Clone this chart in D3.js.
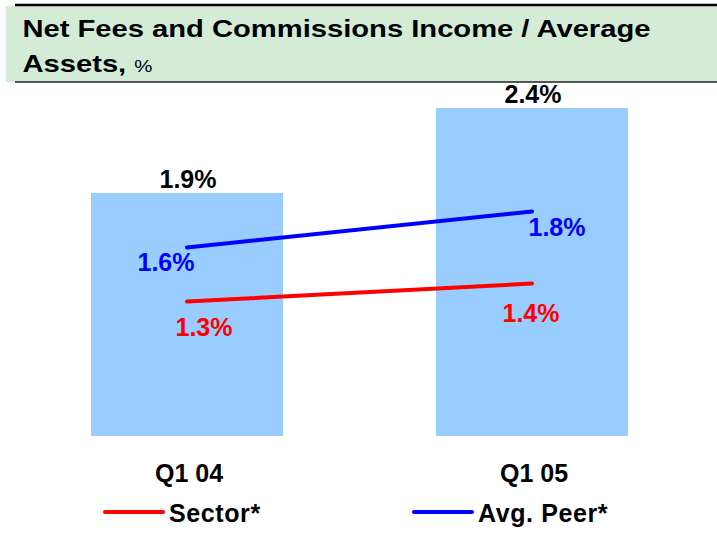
<!DOCTYPE html>
<html>
<head>
<meta charset="utf-8">
<script src="https://cdn.jsdelivr.net/npm/d3@7"></script>
<style>
  html, body { margin: 0; padding: 0; background: #ffffff; }
  svg { display: block; font-family: "Liberation Sans", Arial, sans-serif; }
</style>
</head>
<body>
<svg id="chart" width="717" height="538"></svg>
<script>
// Quarterly data: net fees & commissions income as a share of average assets, %
const categories = ["Q1 04", "Q1 05"];
const companyValues = [1.9, 2.4];   // bars
const sectorValues = [1.3, 1.4];    // red line
const peerValues = [1.6, 1.8];      // blue line
const seriesNames = ["Sector*", "Avg. Peer*"];
const titleLine1 = "Net Fees and Commissions Income / Average";
const titleLine2 = "Assets,";
const titleUnit = "%";

const svg = d3.select("#chart");
const W = 717;

// ---- title banner ----
svg.append("rect").attr("x", 6).attr("y", 6).attr("width", W - 6).attr("height", 76)
  .attr("fill", "#d4ebd6");
svg.append("line").attr("x1", 15).attr("x2", W).attr("y1", 5).attr("y2", 5)
  .attr("stroke", "#000").attr("stroke-width", 2.5);
svg.append("line").attr("x1", 15).attr("x2", W).attr("y1", 82).attr("y2", 82)
  .attr("stroke", "#222").attr("stroke-width", 1.3);

const title = svg.append("g").attr("transform", "translate(22.5,0) scale(1.2,1)");
title.append("text").attr("x", 0).attr("y", 37.5)
  .attr("font-size", 24.3).attr("font-weight", "bold").attr("fill", "#000")
  .text(titleLine1);
const t2 = title.append("text").attr("x", 0).attr("y", 72)
  .attr("font-size", 24.3).attr("fill", "#000");
t2.append("tspan").attr("font-weight", "bold").text(titleLine2 + " ");
t2.append("tspan").attr("font-size", 17).text(titleUnit);

// ---- scales ----
const plotBottom = 436;
const x = d3.scaleBand().domain(categories).range([12, 707])
  .paddingInner(0.4435).paddingOuter(0.229);
// primary axis (bars) does not start at zero; bars run down to the axis floor
const yBar = d3.scaleLinear().domain([0.47, 2.4]).range([plotBottom, 108]);
// secondary axis for the two comparison lines
const yLine = d3.scaleLinear().domain([1.3, 1.8]).range([301.5, 211.5]);

const cx = c => x(c) + x.bandwidth() / 2;
const fmt = v => d3.format(".1f")(v) + "%";

// ---- bars ----
svg.append("g").selectAll("rect").data(companyValues).join("rect")
  .attr("x", (d, i) => x(categories[i]))
  .attr("y", d => yBar(d))
  .attr("width", x.bandwidth())
  .attr("height", d => plotBottom - yBar(d))
  .attr("fill", "#99ccff");

svg.append("g").selectAll("text").data(companyValues).join("text")
  .attr("x", (d, i) => cx(categories[i]) + 1)
  .attr("y", d => yBar(d) - 5)
  .attr("text-anchor", "middle")
  .attr("font-size", 25).attr("font-weight", "bold").attr("fill", "#000")
  .text(fmt);

// ---- lines ----
const series = [
  { name: seriesNames[0], values: sectorValues, color: "#ff0000",
    labelShift: [[17, 34], [-1, 38]] },
  { name: seriesNames[1], values: peerValues, color: "#0000ff",
    labelShift: [[-21, 23], [25, 24]] }
];

const line = d3.line()
  .x((d, i) => cx(categories[i]))
  .y(d => yLine(d));

series.forEach(s => {
  svg.append("path").datum(s.values)
    .attr("d", line)
    .attr("fill", "none")
    .attr("stroke", s.color)
    .attr("stroke-width", 4)
    .attr("stroke-linecap", "round");

  svg.append("g").selectAll("text").data(s.values).join("text")
    .attr("x", (d, i) => cx(categories[i]) + s.labelShift[i][0])
    .attr("y", (d, i) => yLine(d) + s.labelShift[i][1])
    .attr("text-anchor", "middle")
    .attr("font-size", 25).attr("font-weight", "bold").attr("fill", s.color)
    .text(fmt);
});

// ---- category axis labels ----
svg.append("g").selectAll("text").data(categories).join("text")
  .attr("x", d => cx(d) + 2)
  .attr("y", 481.5)
  .attr("text-anchor", "middle")
  .attr("font-size", 25).attr("font-weight", "bold").attr("fill", "#000")
  .text(d => d);

// ---- legend ----
const legendX = [105, 414];
series.forEach((s, i) => {
  const g = svg.append("g").attr("transform", `translate(${legendX[i]},512)`);
  g.append("line").attr("x1", 0).attr("x2", 58).attr("y1", 0).attr("y2", 0)
    .attr("stroke", s.color).attr("stroke-width", 4).attr("stroke-linecap", "round");
  g.append("text").attr("x", 64).attr("y", 9.5)
    .attr("font-size", 25).attr("font-weight", "bold").attr("fill", "#000")
    .attr("letter-spacing", 0.6)
    .text(s.name);
});
</script>
</body>
</html>
